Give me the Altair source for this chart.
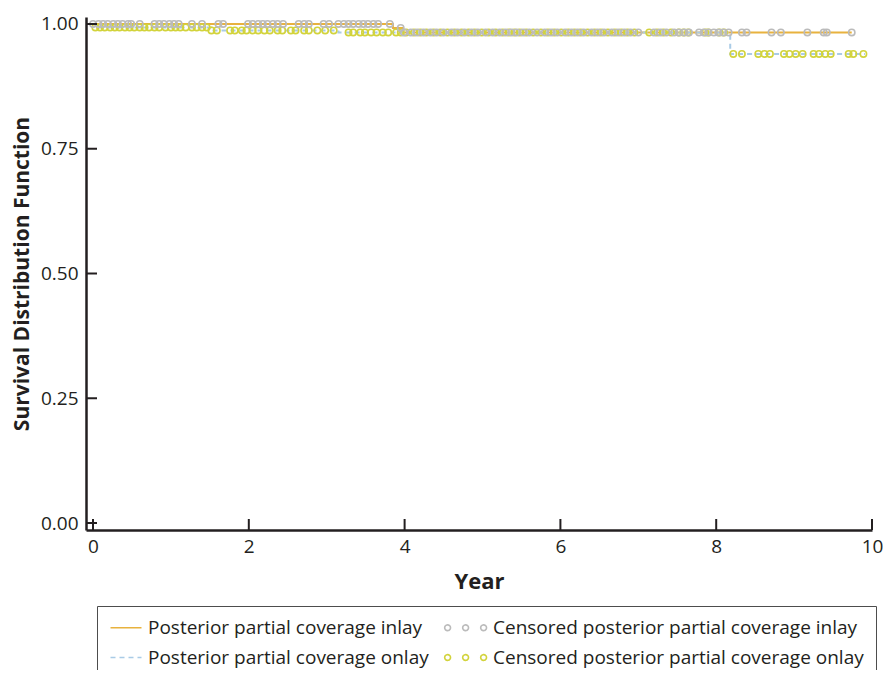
import altair as alt
import pandas as pd
import numpy as np

# ---------------- data ----------------
# legend order: column 1 = the two curves, column 2 = the two censoring series
series_names = [
    "Posterior partial coverage inlay",
    "Posterior partial coverage onlay",
    "Censored posterior partial coverage inlay",
    "Censored posterior partial coverage onlay",
]
series_colors = ["#E8B23E", "#A9CBE6", "#BBBBBB", "#D2D33C"]

# Kaplan-Meier step curves (time in years, survival)
inlay_t = [0.0, 3.85, 3.98, 9.74]
inlay_s = [1.0, 0.992, 0.983, 0.983]
onlay_t = [0.0, 0.03, 1.52, 3.15, 8.18, 9.91]
onlay_s = [1.0, 0.993, 0.987, 0.983, 0.940, 0.940]

# censoring times
cens_inlay_t = [
    0.00, 0.07, 0.13, 0.19, 0.26, 0.32, 0.38, 0.45, 0.49, 0.60, 0.79, 0.85, 0.91,
    0.98, 1.04, 1.10, 1.27, 1.40, 1.61, 1.67, 1.99, 2.05, 2.12, 2.18, 2.24, 2.31,
    2.37, 2.44, 2.64, 2.71, 2.77, 2.96, 3.03, 3.15, 3.22, 3.28, 3.34, 3.41, 3.47,
    3.53, 3.60, 3.66, 3.81, 3.95, 3.99,
    4.08, 4.16, 4.24, 4.33, 4.41, 4.50, 4.60, 4.68, 4.77, 4.86, 4.94, 5.04, 5.13,
    5.22, 5.30, 5.37, 5.44, 5.52, 5.60, 5.70, 5.80, 5.88, 5.96, 6.06, 6.14, 6.22,
    6.30, 6.40, 6.48, 6.56, 6.66, 6.74, 6.82, 6.90, 7.00, 7.20, 7.28, 7.36, 7.46,
    7.52, 7.59, 7.65, 7.78, 7.84, 7.90, 7.97, 8.03, 8.09, 8.16, 8.33, 8.39, 8.71,
    8.83, 9.17, 9.38, 9.42, 9.74,
]
cens_onlay_t = [
    0.03, 0.09, 0.15, 0.22, 0.28, 0.34, 0.41, 0.47, 0.53, 0.60, 0.66, 0.72, 0.79,
    0.85, 0.93, 1.00, 1.06, 1.12, 1.19, 1.27, 1.33, 1.40, 1.46,
    1.52, 1.59, 1.76, 1.82, 1.91, 1.97, 2.05, 2.12, 2.20, 2.27, 2.37, 2.43, 2.54,
    2.60, 2.71, 2.77, 2.88, 2.98, 3.09,
    3.28, 3.34, 3.43, 3.49, 3.57, 3.64, 3.72, 3.79, 3.89, 3.95, 4.02,
    4.12, 4.20, 4.28, 4.37, 4.46, 4.55, 4.64, 4.73, 4.82, 4.90, 4.99, 5.08, 5.17,
    5.26, 5.34, 5.41, 5.48, 5.56, 5.65, 5.75, 5.84, 5.92, 6.01, 6.10, 6.18, 6.26,
    6.35, 6.44, 6.52, 6.61, 6.70, 6.78, 6.86, 6.95, 7.14, 7.24, 7.32, 7.42, 7.52,
    7.58, 7.64, 7.86, 7.90, 8.04, 8.10,
    8.22, 8.33, 8.54, 8.62, 8.69, 8.87, 8.94, 9.02, 9.11, 9.25, 9.32, 9.40, 9.47,
    9.70, 9.76, 9.89,
]

x_ticks = [0, 2, 4, 6, 8, 10]
y_ticks = [0.0, 0.25, 0.5, 0.75, 1.0]
x_dom = [-0.09, 10.0]
y_dom = [-0.014, 1.014]

# ---------------- tables ----------------
def step_value(times, values, t):
    idx = np.searchsorted(np.array(times), np.array(t), side="right") - 1
    return np.array(values)[idx]

lines = pd.concat([
    pd.DataFrame({"t": inlay_t, "s": inlay_s, "series": series_names[0]}),
    pd.DataFrame({"t": onlay_t, "s": onlay_s, "series": series_names[1]}),
])
pts = pd.concat([
    pd.DataFrame({"t": cens_onlay_t, "s": step_value(onlay_t, onlay_s, cens_onlay_t),
                  "series": series_names[3]}),
    pd.DataFrame({"t": cens_inlay_t, "s": step_value(inlay_t, inlay_s, cens_inlay_t),
                  "series": series_names[2]}),
])

# ---------------- styling ----------------
axis_color = "#231F20"
font = "Open Sans"

# legend symbol paths (unit = sqrt(symbolSize)/2 = 8 px, symbol centre 8 px from entry start)
line_path = "M-1,0H2.875"
r = 0.3625
circ_cx = [-1.9875, 0.2625, 2.5125]
circles_path = "".join(
    f"M{cx - r:.4f},0A{r},{r} 0 1,0 {cx + r:.4f},0A{r},{r} 0 1,0 {cx - r:.4f},0"
    for cx in circ_cx
)

xs = alt.Scale(domain=x_dom, nice=False, zero=False)
ys = alt.Scale(domain=y_dom, nice=False, zero=False)
color_scale = alt.Scale(domain=series_names, range=series_colors)
dash_scale = alt.Scale(domain=series_names, range=[[1, 0], [5, 4], [1, 0], [1, 0]])
shape_scale = alt.Scale(domain=series_names,
                        range=[line_path, line_path, circles_path, circles_path])

x_axis = alt.Axis(values=x_ticks, format="d", title="Year", grid=False, ticks=False,
                  tickSize=0, domainColor=axis_color, domainWidth=2.5,
                  labelFont=font, labelFontSize=19, labelColor=axis_color,
                  labelPadding=7, labelFlush=False, labelOverlap=False,
                  titleFont=font, titleFontSize=22, titleFontWeight="bold",
                  titleColor=axis_color, titlePadding=15)
y_axis = alt.Axis(values=y_ticks, format=".2f", title="Survival Distribution Function",
                  grid=False, ticks=False, tickSize=0, domainColor=axis_color,
                  domainWidth=2.5, labelFont=font, labelFontSize=19,
                  labelColor=axis_color, labelPadding=8, labelFlush=False,
                  labelOverlap=False, titleFont=font, titleFontSize=21,
                  titleFontWeight="bold", titleColor=axis_color, titlePadding=8)

leg = alt.Legend(title=None, orient="none", legendX=11, legendY=589, columns=2,
                 direction="vertical", columnPadding=12, rowPadding=10, padding=12,
                 strokeColor="#4D4D4D", fillColor="white",
                 labelFont=font, labelFontSize=19, labelColor=axis_color,
                 labelOffset=20, labelLimit=800, symbolSize=256, symbolOffset=0,
                 symbolStrokeWidth=1.6, symbolFillColor="transparent")

def X(field):
    return alt.X(field, scale=xs, axis=x_axis)

def Y(field):
    return alt.Y(field, scale=ys, axis=y_axis)

line_layer = alt.Chart(lines).mark_line(interpolate="step-after", strokeWidth=2).encode(
    x=X("t:Q"),
    y=Y("s:Q"),
    color=alt.Color("series:N", scale=color_scale, legend=leg),
    strokeDash=alt.StrokeDash("series:N", scale=dash_scale, legend=leg),
)

point_layer = alt.Chart(pts).mark_point(shape="circle", filled=False, size=40,
                                         strokeWidth=1.6, opacity=1).encode(
    x=X("t:Q"),
    y=Y("s:Q"),
    color=alt.Color("series:N", scale=color_scale, legend=leg),
    order=alt.Order("series:N", sort="descending"),
)

legend_layer = alt.Chart(pts).transform_filter("datum.t > 1000").mark_point(
    filled=False, strokeWidth=1.6, opacity=1).encode(
    x=X("t:Q"),
    y=Y("s:Q"),
    color=alt.Color("series:N", scale=color_scale, legend=leg),
    shape=alt.Shape("series:N", scale=shape_scale, legend=leg),
    strokeDash=alt.StrokeDash("series:N", scale=dash_scale, legend=leg),
)

xtick_layer = alt.Chart(pd.DataFrame({"t": x_ticks})).mark_tick(
    orient="vertical", size=11, thickness=2, yOffset=-5.5, color=axis_color,
    opacity=1).encode(
    x=X("t:Q"),
    y=alt.YDatum(datum=y_dom[0], type="quantitative", scale=ys, axis=y_axis),
)

ytick_layer = alt.Chart(pd.DataFrame({"t": y_ticks})).mark_tick(
    orient="horizontal", size=11, thickness=2, xOffset=5.5, color=axis_color,
    opacity=1).encode(
    y=Y("t:Q"),
    x=alt.XDatum(datum=x_dom[0], type="quantitative", scale=xs, axis=x_axis),
)

chart = alt.layer(line_layer, point_layer, legend_layer, xtick_layer, ytick_layer).properties(
    width=786, height=513,
    autosize=alt.AutoSizeParams(type="none"),
    padding={"left": 78, "top": 9, "right": 11, "bottom": 140},
    background="white",
).configure_view(strokeWidth=0)

chart.save("out.html", embed_options={"renderer": "svg", "actions": False})
